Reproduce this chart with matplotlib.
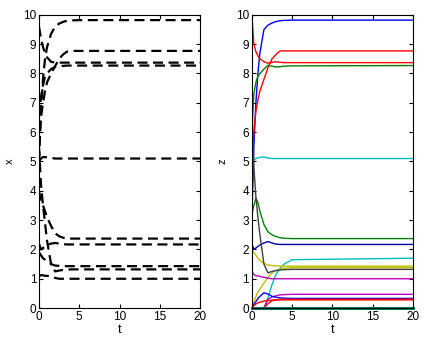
import matplotlib
matplotlib.use('Agg')
import matplotlib.pyplot as plt

plt.rcParams['font.family'] = ['Liberation Sans', 'DejaVu Sans']

# time samples shared by every curve
t = [0, 0.25, 0.5, 0.75, 1, 1.5, 2, 2.5, 3, 3.5, 4, 5, 20]

# left panel: x trajectories (dashed black)
x_curves = [
    [5.0, 6.8, 7.8, 8.5, 8.9, 9.35, 9.6, 9.7, 9.76, 9.8, 9.81, 9.82, 9.82],
    [5.5, 6.5, 7.0, 7.4, 7.7, 8.0, 8.25, 8.5, 8.65, 8.75, 8.77, 8.77, 8.77],
    [9.6, 9.2, 8.9, 8.7, 8.55, 8.4, 8.37, 8.37, 8.37, 8.37, 8.37, 8.37, 8.37],
    [6.5, 7.2, 7.6, 7.9, 8.0, 8.15, 8.22, 8.25, 8.26, 8.27, 8.27, 8.27, 8.27],
    [5.0, 5.1, 5.15, 5.15, 5.14, 5.12, 5.1, 5.1, 5.1, 5.1, 5.1, 5.1, 5.1],
    [4.0, 3.6, 3.5, 3.3, 3.1, 2.8, 2.55, 2.45, 2.4, 2.38, 2.37, 2.37, 2.37],
    [2.2, 2.0, 2.05, 2.1, 2.15, 2.2, 2.22, 2.2, 2.18, 2.17, 2.17, 2.17, 2.17],
    [1.9, 1.8, 1.7, 1.65, 1.6, 1.5, 1.45, 1.44, 1.43, 1.43, 1.43, 1.43, 1.43],
    [5.5, 4.2, 3.5, 2.9, 2.3, 1.5, 1.25, 1.28, 1.3, 1.31, 1.32, 1.32, 1.32],
    [1.1, 1.12, 1.12, 1.1, 1.1, 1.08, 1.03, 1.0, 1.0, 1.0, 1.0, 1.0, 1.0],
]

# right panel: z trajectories with their colours
z_curves = [
    [3.0, 5.5, 7.0, 8.0, 8.7, 9.5, 9.65, 9.72, 9.77, 9.8, 9.81, 9.82, 9.82],
    [5.0, 6.0, 6.7, 7.1, 7.4, 7.8, 8.2, 8.5, 8.65, 8.77, 8.77, 8.77, 8.77],
    [10.0, 9.0, 8.75, 8.6, 8.5, 8.4, 8.35, 8.38, 8.4, 8.38, 8.37, 8.37, 8.37],
    [6.0, 7.3, 7.7, 7.9, 8.0, 8.15, 8.28, 8.25, 8.22, 8.23, 8.25, 8.26, 8.27],
    [5.0, 5.05, 5.1, 5.12, 5.14, 5.15, 5.12, 5.1, 5.1, 5.1, 5.1, 5.1, 5.1],
    [3.2, 3.5, 3.75, 3.6, 3.3, 2.85, 2.6, 2.5, 2.44, 2.4, 2.38, 2.37, 2.37],
    [2.2, 2.0, 2.05, 2.1, 2.15, 2.22, 2.27, 2.22, 2.18, 2.17, 2.17, 2.17, 2.17],
    [0.0, 0.0, 0.0, 0.0, 0.0, 0.0, 0.35, 0.8, 1.15, 1.35, 1.5, 1.65, 1.7],
    [2.0, 1.9, 1.8, 1.7, 1.62, 1.52, 1.47, 1.45, 1.44, 1.43, 1.43, 1.43, 1.43],
    [0.0, 0.2, 0.4, 0.55, 0.65, 0.85, 1.05, 1.2, 1.28, 1.33, 1.36, 1.38, 1.38],
    [7.0, 4.8, 3.8, 3.1, 2.5, 1.5, 1.2, 1.25, 1.28, 1.3, 1.31, 1.32, 1.32],
    [1.25, 1.15, 1.1, 1.1, 1.08, 1.05, 1.02, 1.0, 1.0, 1.0, 1.0, 1.0, 1.0],
    [0.0, 0.0, 0.0, 0.0, 0.0, 0.0, 0.3, 0.38, 0.42, 0.45, 0.46, 0.47, 0.47],
    [0.0, 0.12, 0.22, 0.32, 0.4, 0.52, 0.48, 0.4, 0.37, 0.35, 0.34, 0.33, 0.33],
    [0.0, 0.08, 0.14, 0.18, 0.2, 0.24, 0.26, 0.27, 0.28, 0.28, 0.28, 0.28, 0.28],
    [0.0, 0.0, 0.0, 0.0, 0.0, 0.0, 0.15, 0.25, 0.28, 0.3, 0.3, 0.3, 0.3],
]
z_colors = ['#0000ff', '#ff0000', '#ff0000', '#008000', '#00bfbf', '#008000',
            '#0000aa', '#00bfbf', '#bfbf00', '#bfbf00', '#404040', '#bf00bf',
            '#bf00bf', '#0000ff', '#ff0000', '#ff0000']
z_zero = [0.0] * len(t)

fig = plt.figure(figsize=(4.38, 3.45), dpi=100)
ax1 = fig.add_axes([0.089, 0.107, 0.368, 0.85])
ax2 = fig.add_axes([0.575, 0.107, 0.368, 0.85])

for y in x_curves:
    ax1.plot(t, y, color='black', lw=1.6, ls=(0, (4.5, 2.5)))

for y, c in zip(z_curves, z_colors):
    ax2.plot(t, y, color=c, lw=1.0)
ax2.plot(t, z_zero, color='#008060', lw=2.2, clip_on=False)

for ax, lab in [(ax1, 'x'), (ax2, 'z')]:
    ax.set_xlim(0, 20)
    ax.set_ylim(0, 10)
    ax.set_xticks([0, 5, 10, 15, 20])
    ax.set_yticks(range(0, 11))
    ax.tick_params(direction='in', top=True, right=True, length=3,
                   labelsize=8.5, pad=2)
    ax.set_xlabel('t', fontsize=9, labelpad=1)
    ax.set_ylabel(lab, fontsize=8, labelpad=6)

fig.savefig('out.png', dpi=100)
